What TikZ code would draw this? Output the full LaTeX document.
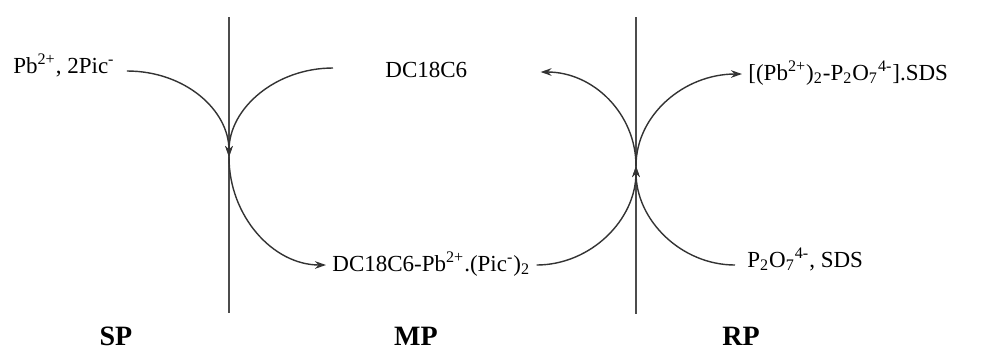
\documentclass[tikz,border=0pt]{standalone}
\usepackage{fontspec}
\setmainfont{Liberation Serif}
\usetikzlibrary{arrows.meta}
\begin{document}
\begin{tikzpicture}[x=0.5pt,y=-0.5pt,
  lbl/.style={inner sep=0pt, font=\fontsize{11.5}{13}\selectfont, anchor=base west},
  phase/.style={inner sep=0pt, font=\fontsize{14}{16}\selectfont\bfseries, anchor=base},
  wall/.style={draw=black!70, line width=1pt},
  flow/.style={draw=black!80, line width=0.7pt, -{Stealth[length=5.5pt,width=3.8pt]}}]
\useasboundingbox (0,0) rectangle (992,350);
\fill[white] (0,0) rectangle (992,350);
% membranes
\draw[wall] (229,17) -- (229,313);
\draw[wall] (636,17) -- (636,314);
\coordinate (jl) at (229,157);
\coordinate (jr) at (636,166);
% texts
\node[lbl] (pb) at (13,73) {Pb\textsuperscript{2+}, 2Pic\textsuperscript{-}};
\node[lbl] (dc) at (385,77) {DC18C6};
\node[lbl] (cx) at (332,271) {DC18C6-Pb\textsuperscript{2+}.(Pic\textsuperscript{-})\textsubscript{2}};
\node[lbl] (p2) at (747,267) {P\textsubscript{2}O\textsubscript{7}\textsuperscript{4-}, SDS};
\node[lbl] (pp) at (748,80) {[(Pb\textsuperscript{2+})\textsubscript{2}-P\textsubscript{2}O\textsubscript{7}\textsuperscript{4-}].SDS};
\node[phase] (sp) at (116,345) {SP};
\node[phase] (mp) at (416,345) {MP};
\node[phase] (rp) at (741,345) {RP};
% left cycle
\draw[flow] ([shift={(12,-2)}]pb.base east) .. controls +(58,0) and +(0,-47) .. (jl);
\draw[flow] ([shift={(-52,-9)}]dc.base west) .. controls +(-57,0) and +(0,-49) .. (jl);
\draw[flow] (jl) .. controls +(0,59) and +(-53,0) .. ([shift={(-6,-6)}]cx.base west);
% right cycle
\draw[flow] ([shift={(6,-6)}]cx.base east) .. controls +(54,0) and +(0,54) .. (jr);
\draw[flow] ([shift={(-12,-2)}]p2.base west) .. controls +(-54,0) and +(0,54) .. (jr);
\draw[flow] (jr) .. controls +(0,-52) and +(53,0) .. ([shift={(73,-5)}]dc.base east);
\draw[flow] (jr) .. controls +(0,-51) and +(-58,0) .. ([shift={(-6,-6)}]pp.base west);
\end{tikzpicture}
\end{document}
